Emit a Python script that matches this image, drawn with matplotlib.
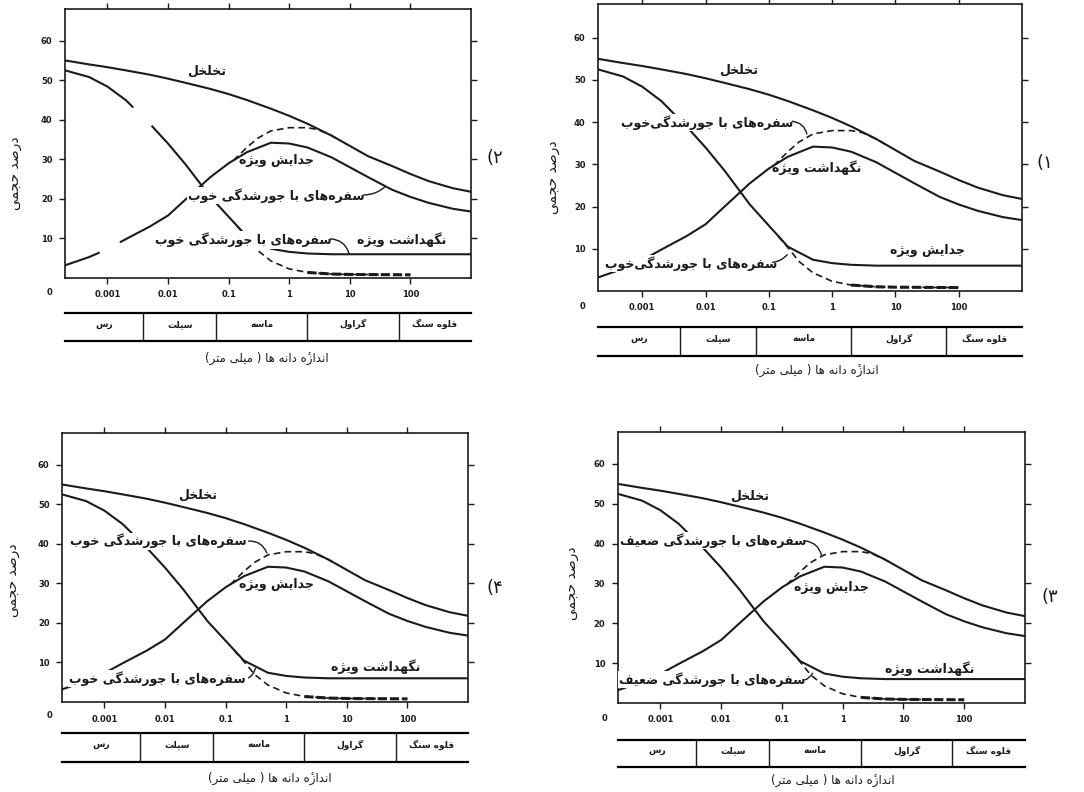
import numpy as np
import matplotlib
matplotlib.use("Agg")
import matplotlib.pyplot as plt
import matplotlib.patheffects as pe
from matplotlib import font_manager, ft2font
from matplotlib.font_manager import FontProperties

grain_mm = [2e-4, 5e-4, 1e-3, 2e-3, 5e-3, 0.01, 0.02, 0.05, 0.1, 0.2, 0.5,
            1, 2, 5, 10, 20, 50, 100, 200, 500, 1000]
porosity = [55.0, 54.0, 53.3, 52.5, 51.4, 50.4, 49.3, 47.8, 46.5, 45.0, 42.8,
            41.0, 39.0, 36.0, 33.4, 30.8, 28.3, 26.3, 24.5, 22.7, 21.8]
specific_yield = [3.2, 5.3, 7.3, 9.8, 13.0, 15.8, 20.0, 25.5, 29.0, 31.8, 34.2,
                  34.0, 33.0, 30.5, 28.0, 25.5, 22.3, 20.5, 19.0, 17.5, 16.8]
specific_retention = [52.5, 50.8, 48.4, 45.0, 39.0, 34.0, 28.5, 20.5, 15.5, 10.5, 7.4,
                      6.6, 6.2, 6.0, 6.0, 6.0, 6.0, 6.0, 6.0, 6.0, 6.0]

# dashed branches
upper_dash_mm = [0.12, 0.2, 0.3, 0.5, 1, 2, 3, 5, 7]
upper_dash = [29.7, 33.0, 35.3, 37.2, 38.0, 38.0, 37.5, 36.0, 34.7]
lower_dash_mm = [0.14, 0.2, 0.3, 0.5, 1, 2, 5, 10, 30, 100]
lower_dash = [13.0, 10.3, 7.0, 4.3, 2.3, 1.4, 1.0, 0.9, 0.85, 0.8]

x_ticks = [0.001, 0.01, 0.1, 1, 10, 100]
x_tick_labels = ["0.001", "0.01", "0.1", "1", "10", "100"]
y_ticks = [10, 20, 30, 40, 50, 60]

class_edges_mm = [2e-4, 0.0039, 0.0625, 2, 64, 1000]
class_names = ["رس", "سیلت", "ماسه", "گراول", "قلوه سنگ"]

x_title = "اندازۀ دانه ها ( میلی متر)"
y_title = "درصد حجمی"

# ---------- simple Persian shaping (matplotlib has no text shaping) ----------
FORMS = {
    "ا": (0xFE8D, 0xFE8E), "ب": (0xFE8F, 0xFE90, 0xFE91, 0xFE92),
    "ت": (0xFE95, 0xFE96, 0xFE97, 0xFE98), "ج": (0xFE9D, 0xFE9E, 0xFE9F, 0xFEA0),
    "ح": (0xFEA1, 0xFEA2, 0xFEA3, 0xFEA4), "خ": (0xFEA5, 0xFEA6, 0xFEA7, 0xFEA8),
    "د": (0xFEA9, 0xFEAA), "ر": (0xFEAD, 0xFEAE), "ز": (0xFEAF, 0xFEB0),
    "ژ": (0xFB8A, 0xFB8B), "س": (0xFEB1, 0xFEB2, 0xFEB3, 0xFEB4),
    "ش": (0xFEB5, 0xFEB6, 0xFEB7, 0xFEB8), "ص": (0xFEB9, 0xFEBA, 0xFEBB, 0xFEBC),
    "ض": (0xFEBD, 0xFEBE, 0xFEBF, 0xFEC0), "ع": (0xFEC9, 0xFECA, 0xFECB, 0xFECC),
    "ف": (0xFED1, 0xFED2, 0xFED3, 0xFED4), "ق": (0xFED5, 0xFED6, 0xFED7, 0xFED8),
    "گ": (0xFB92, 0xFB93, 0xFB94, 0xFB95), "ل": (0xFEDD, 0xFEDE, 0xFEDF, 0xFEE0),
    "م": (0xFEE1, 0xFEE2, 0xFEE3, 0xFEE4), "ن": (0xFEE5, 0xFEE6, 0xFEE7, 0xFEE8),
    "ه": (0xFEE9, 0xFEEA, 0xFEEB, 0xFEEC),
    "ۀ": (0xFEE9, 0xFEEA),  # heh + hamza above, drawn as heh with a mark
    "و": (0xFEED, 0xFEEE), "ی": (0xFBFC, 0xFBFD, 0xFBFE, 0xFBFF),
}
ZWNJ = "\u200c"
HAMZA = 0x0654
MIRROR = {"(": ")", ")": "("}

reg_font = ft2font.FT2Font(font_manager.findfont(FontProperties(family="DejaVu Sans")))
bold_font = ft2font.FT2Font(font_manager.findfont(FontProperties(family="DejaVu Sans", weight="bold")))


def has(font, cp):
    return font.get_char_index(cp) != 0


def visual(s, font=reg_font):
    # shape the Persian letters, then lay the line out right to left
    units = []
    for i, c in enumerate(s):
        if c == ZWNJ:
            continue
        if c not in FORMS:
            units.append(MIRROR.get(c, c))
            continue
        prev = s[i - 1] if i > 0 else None
        nxt = s[i + 1] if i + 1 < len(s) else None
        f = FORMS[c]
        jp = prev in FORMS and len(FORMS[prev]) == 4
        jn = nxt in FORMS and len(f) == 4
        if jp and jn:
            cp = f[3]
        elif jp:
            cp = f[1]
        elif jn:
            cp = f[2]
        else:
            cp = f[0]
        g = chr(cp) if has(font, cp) else c
        if c == "ۀ" and has(font, HAMZA):
            g += chr(HAMZA)
        units.append(g)
    return "".join(units[::-1])


used = {ch for t in class_names + [x_title, y_title, "سفره‌های با جورشدگی خوب ضعیف تخلخل نگهداشت جدایش ویژه"]
        for ch in t if ch in FORMS}
needed = [cp for ch in used for cp in FORMS[ch]]
bold_ok = all(has(bold_font, cp) for cp in needed)
LBL_W = "bold" if bold_ok else "normal"
LBL_FONT = bold_font if bold_ok else reg_font
LBL_FX = [] if bold_ok else [pe.withStroke(linewidth=0.7, foreground="#1b1b1b")]


def with_gaps(x, y, gaps):
    # cut pieces out of a polyline (gaps given as grain-size ranges)
    y = list(y)
    lx = np.log10(x)
    for a, b in gaps:
        for edge in (a, b):
            le = np.log10(edge)
            ye = np.interp(le, lx, y)
            k = int(np.searchsorted(lx, le))
            lx = np.insert(lx, k, le)
            y.insert(k, ye)
    xs = 10 ** lx
    ys = np.array(y, dtype=float)
    for a, b in gaps:
        ys[(xs > a * 1.0001) & (xs < b * 0.9999)] = np.nan
    return xs, ys


plt.rcParams["font.family"] = ["DejaVu Sans"]

GOOD = "سفره‌های با جورشدگی خوب"
GOOD2 = "سفره‌های با جورشدگی‌خوب"
POOR = "سفره‌های با جورشدگی ضعیف"

panels = [
    dict(num="(۱", ax=[0.5517, 0.6326, 0.391, 0.3624], bar=[0.5517, 0.5505, 0.391, 0.0366],
         xl=(0.7537, 0.5328), nl=(0.964, 0.794), yl=(0.510, 0.7765), zero=(0.5378, 0.6136),
         labels=[("تخلخل", 0.033, 52.3), (GOOD2, 0.0107, 40.0), ("نگهداشت ویژه", 0.58, 29.3),
                 ("جدایش ویژه", 32, 9.6), (GOOD2, 0.0059, 6.5)],
         leaders=[((0.234, 40.2), (0.40, 37.2), -0.35), ((0.115, 6.8), (0.195, 8.6), 0.2)],
         gaps_ret=[], gaps_yld=[]),
    dict(num="(۲", ax=[0.060, 0.649, 0.3745, 0.3396], bar=[0.060, 0.5694, 0.3745, 0.0354],
         xl=(0.2463, 0.548), nl=(0.4566, 0.8005), yl=(0.0138, 0.7816), zero=(0.0461, 0.6313),
         labels=[("تخلخل", 0.044, 52.3), ("جدایش ویژه", 0.62, 29.7), (GOOD, 0.62, 20.9),
                 (GOOD, 0.174, 9.6), ("نگهداشت ویژه", 72, 9.6)],
         leaders=[((17, 21.0), (39, 23.2), 0.2), ((4.8, 9.9), (9.8, 6.0), -0.35)],
         gaps_ret=[(0.0026, 0.0055)], gaps_yld=[(0.00072, 0.00166)]),
    dict(num="(۴", ax=[0.0572, 0.1136, 0.3745, 0.3396], bar=[0.0572, 0.0379, 0.3745, 0.0366],
         xl=(0.249, 0.0177), nl=(0.4566, 0.2576), yl=(0.012, 0.2677), zero=(0.0461, 0.0972),
         labels=[("تخلخل", 0.034, 52.3), (GOOD, 0.0079, 40.7), ("جدایش ویژه", 0.69, 29.7),
                 ("نگهداشت ویژه", 30, 8.9), (GOOD, 0.0074, 5.9)],
         leaders=[((0.24, 40.7), (0.48, 37.7), -0.35), ((0.24, 6.1), (0.31, 8.5), 0.2)],
         gaps_ret=[], gaps_yld=[]),
    dict(num="(۳", ax=[0.570, 0.1124, 0.3755, 0.342], bar=[0.570, 0.0316, 0.3755, 0.034],
         xl=(0.7685, 0.0152), nl=(0.9686, 0.2462), yl=(0.5277, 0.2639), zero=(0.558, 0.0934),
         labels=[("تخلخل", 0.030, 51.9), (POOR, 0.0074, 40.7), ("جدایش ویژه", 0.65, 29.1),
                 ("نگهداشت ویژه", 27, 8.7), (POOR, 0.0071, 5.8)],
         leaders=[((0.24, 40.7), (0.45, 37.0), -0.35), ((0.24, 5.8), (0.32, 7.5), 0.2)],
         gaps_ret=[], gaps_yld=[]),
]

INK = "#1b1b1b"
fig = plt.figure(figsize=(10.84, 7.92), dpi=100)

for p in panels:
    ax = fig.add_axes(p["ax"])
    ax.set_xscale("log")
    ax.set_xlim(2e-4, 1000)
    ax.set_ylim(0, 68)

    ax.plot(grain_mm, porosity, color=INK, lw=1.5)
    xs, ys = with_gaps(grain_mm, specific_yield, p["gaps_yld"])
    ax.plot(xs, ys, color=INK, lw=1.5)
    xs, ys = with_gaps(grain_mm, specific_retention, p["gaps_ret"])
    ax.plot(xs, ys, color=INK, lw=1.5)
    ax.plot(upper_dash_mm, upper_dash, color=INK, lw=1.2, ls=(0, (4, 2.5)))
    ax.plot(lower_dash_mm, lower_dash, color=INK, lw=1.2, ls=(0, (4, 2.5)))
    ax.plot(lower_dash_mm[5:], lower_dash[5:], color=INK, lw=2.2, ls=(0, (3, 1)))

    for txt, x, y in p["labels"]:
        box = dict(facecolor="white", edgecolor="none", pad=0.8) if "سفره" in txt else None
        ax.text(x, y, visual(txt, LBL_FONT), ha="center", va="center", fontsize=9,
                fontweight=LBL_W, color=INK, zorder=4, bbox=box, path_effects=LBL_FX)
    for start, end, rad in p["leaders"]:
        ax.annotate("", xy=end, xytext=start, zorder=5,
                    arrowprops=dict(arrowstyle="-", color=INK, lw=1.0,
                                    connectionstyle=f"arc3,rad={rad}",
                                    shrinkA=0, shrinkB=0))

    ax.set_xticks(x_ticks)
    ax.set_xticklabels(x_tick_labels)
    ax.minorticks_off()
    ax.set_yticks(y_ticks)
    ax.tick_params(direction="out", length=4, width=1.0, top=True, right=True,
                   labelsize=6, pad=5, colors=INK)
    for lab in ax.get_xticklabels() + ax.get_yticklabels():
        lab.set_fontweight("bold")
    for s in ax.spines.values():
        s.set_linewidth(1.2)
        s.set_color(INK)

    # grain class band
    bx = fig.add_axes(p["bar"])
    bx.set_xscale("log")
    bx.set_xlim(2e-4, 1000)
    bx.set_ylim(0, 1)
    bx.set_xticks([])
    bx.set_yticks([])
    bx.minorticks_off()
    bx.spines["left"].set_visible(False)
    bx.spines["right"].set_visible(False)
    bx.spines["top"].set_linewidth(1.6)
    bx.spines["bottom"].set_linewidth(1.6)
    bx.vlines(class_edges_mm[1:-1], 0, 1, color=INK, lw=1.0)
    for i, name in enumerate(class_names):
        xc = np.sqrt(class_edges_mm[i] * class_edges_mm[i + 1])
        bx.text(xc, 0.6, visual(name, LBL_FONT), ha="center", va="center",
                fontsize=6.5, fontweight=LBL_W, color=INK)

    fig.text(*p["xl"], visual(x_title), ha="center", va="center", fontsize=8.5, color=INK)
    fig.text(*p["yl"], visual(y_title), ha="center", va="center", fontsize=10,
             rotation=90, color=INK)
    fig.text(*p["nl"], p["num"], ha="center", va="center", fontsize=13, color=INK)
    fig.text(*p["zero"], "0", ha="center", va="center", fontsize=6,
             fontweight="bold", color=INK)

fig.savefig("out.png", dpi=100, facecolor="white")
